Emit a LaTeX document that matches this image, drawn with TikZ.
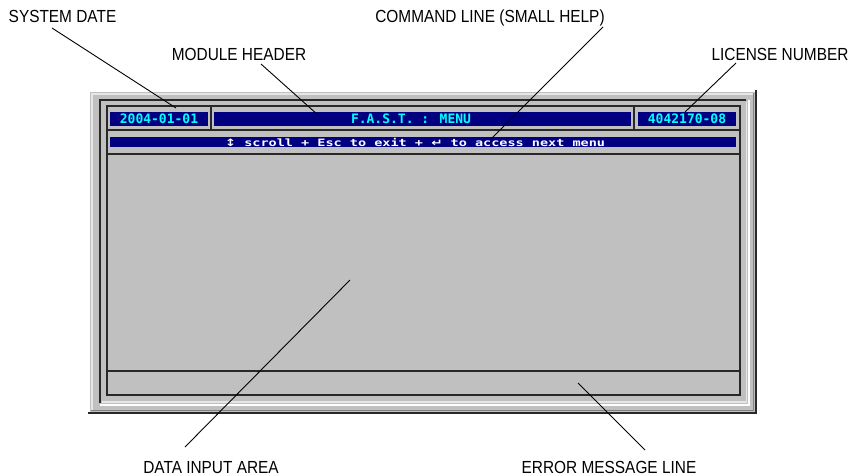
\documentclass[tikz,border=0pt]{standalone}
\usepackage{fontspec}
\setmainfont{Liberation Sans}
\newfontfamily\dosfont{DejaVu Sans Mono}
\newfontfamily\symfont{DejaVu Sans}
\definecolor{winGray}{RGB}{192,192,192}
\definecolor{dosNavy}{RGB}{0,0,128}
\definecolor{dosCyan}{RGB}{0,255,255}
\definecolor{edgeDark}{RGB}{40,40,40}
\definecolor{edgeMid}{RGB}{128,128,128}
\definecolor{edgeLight}{RGB}{230,230,230}
\begin{document}
\begin{tikzpicture}[x=1pt,y=-1pt,
  lbl/.style={font=\fontsize{17.5}{18}\selectfont, inner sep=0pt, anchor=base, text=black},
  leader/.style={draw=black, line width=0.9pt},
  bar/.style={fill=dosNavy, draw=none},
  cyantxt/.style={font=\dosfont\bfseries\fontsize{13}{13}\selectfont, text=dosCyan, inner sep=0pt},
  cmdtxt/.style={font=\dosfont\bfseries\fontsize{13.5}{13.5}\selectfont, text=white, inner sep=0pt},
  rule/.style={draw=edgeDark, line width=1.6pt},
]
\useasboundingbox[fill=white] (0,0) rectangle (853,475);

% ---- outer bevelled frame ----
\fill[winGray] (88,90) rectangle (757,414);
\draw[white, line width=2pt] (89,413) -- (89,91) -- (756,91);
\draw[edgeLight, line width=2pt] (92,410) -- (92,94) -- (753,94);
\draw[edgeDark, line width=2pt] (88,413) -- (756,413) -- (756,90);
\draw[edgeMid, line width=1.5pt] (91,410.5) -- (753.5,410.5) -- (753.5,93);
\draw[edgeDark, line width=2pt] (100,403) -- (100,100) -- (746,100);
\draw[white, line width=2pt] (749,100) -- (749,405) -- (100,405);
\draw[edgeLight, line width=1.5pt] (746.5,102) -- (746.5,402) -- (102,402);

% ---- inner screen box ----
\draw[rule, fill=winGray] (107,106) rectangle (740,395);
\draw[rule] (211,106) -- (211,130);
\draw[rule] (634,106) -- (634,130);
\draw[rule] (107,130) -- (740,130);
\draw[rule] (107,154) -- (740,154);
\draw[rule] (107,371) -- (740,371);

% ---- blue bars ----
\fill[bar] (110,112) rectangle (208,126);
\fill[bar] (214,112) rectangle (631,126);
\fill[bar] (638,112) rectangle (736,126);
\fill[bar] (110,137) rectangle (736,147);

\node[cyantxt] (datetxt) at (159,119) {2004-01-01};
\node[cyantxt] (headtxt) at (411,119) {F.A.S.T. : MENU};
\node[cyantxt] (lictxt)  at (687,119) {4042170-08};
\node[cmdtxt]  (cmdtxt)  at (415,142) {\scalebox{1}[0.75]{{\symfont ↕} scroll + Esc to exit + {\symfont ↵} to access next menu}};

% ---- labels ----
\node[lbl] (sysdate) at (62.5,22) {\scalebox{0.88}[1]{SYSTEM DATE}};
\node[lbl] (modhead) at (239,60) {\scalebox{0.88}[1]{MODULE HEADER}};
\node[lbl] (cmdline) at (490,22) {\scalebox{0.88}[1]{COMMAND LINE (SMALL HELP)}};
\node[lbl] (licnum)  at (780,60) {\scalebox{0.88}[1]{LICENSE NUMBER}};
\node[lbl] (datain)  at (211,473) {\scalebox{0.88}[1]{DATA INPUT AREA}};
\node[lbl] (errline) at (609,473) {\scalebox{0.88}[1]{ERROR MESSAGE LINE}};

% ---- leader lines ----
\coordinate (sdA) at (52,28);   \coordinate (sdB) at (176,108);
\coordinate (mhA) at (261,64);  \coordinate (mhB) at (318,115);
\coordinate (clA) at (603,27);  \coordinate (clB) at (490,140);
\coordinate (lnA) at (736,63);  \coordinate (lnB) at (685,112);
\coordinate (daA) at (350,280); \coordinate (daB) at (185,447);
\coordinate (emA) at (578,383); \coordinate (emB) at (645,450);
\draw[leader] (sdA) -- (sdB);
\draw[leader] (mhA) -- (mhB);
\draw[leader] (clA) -- (clB);
\draw[leader] (lnA) -- (lnB);
\draw[leader] (daA) -- (daB);
\draw[leader] (emA) -- (emB);
\end{tikzpicture}
\end{document}
